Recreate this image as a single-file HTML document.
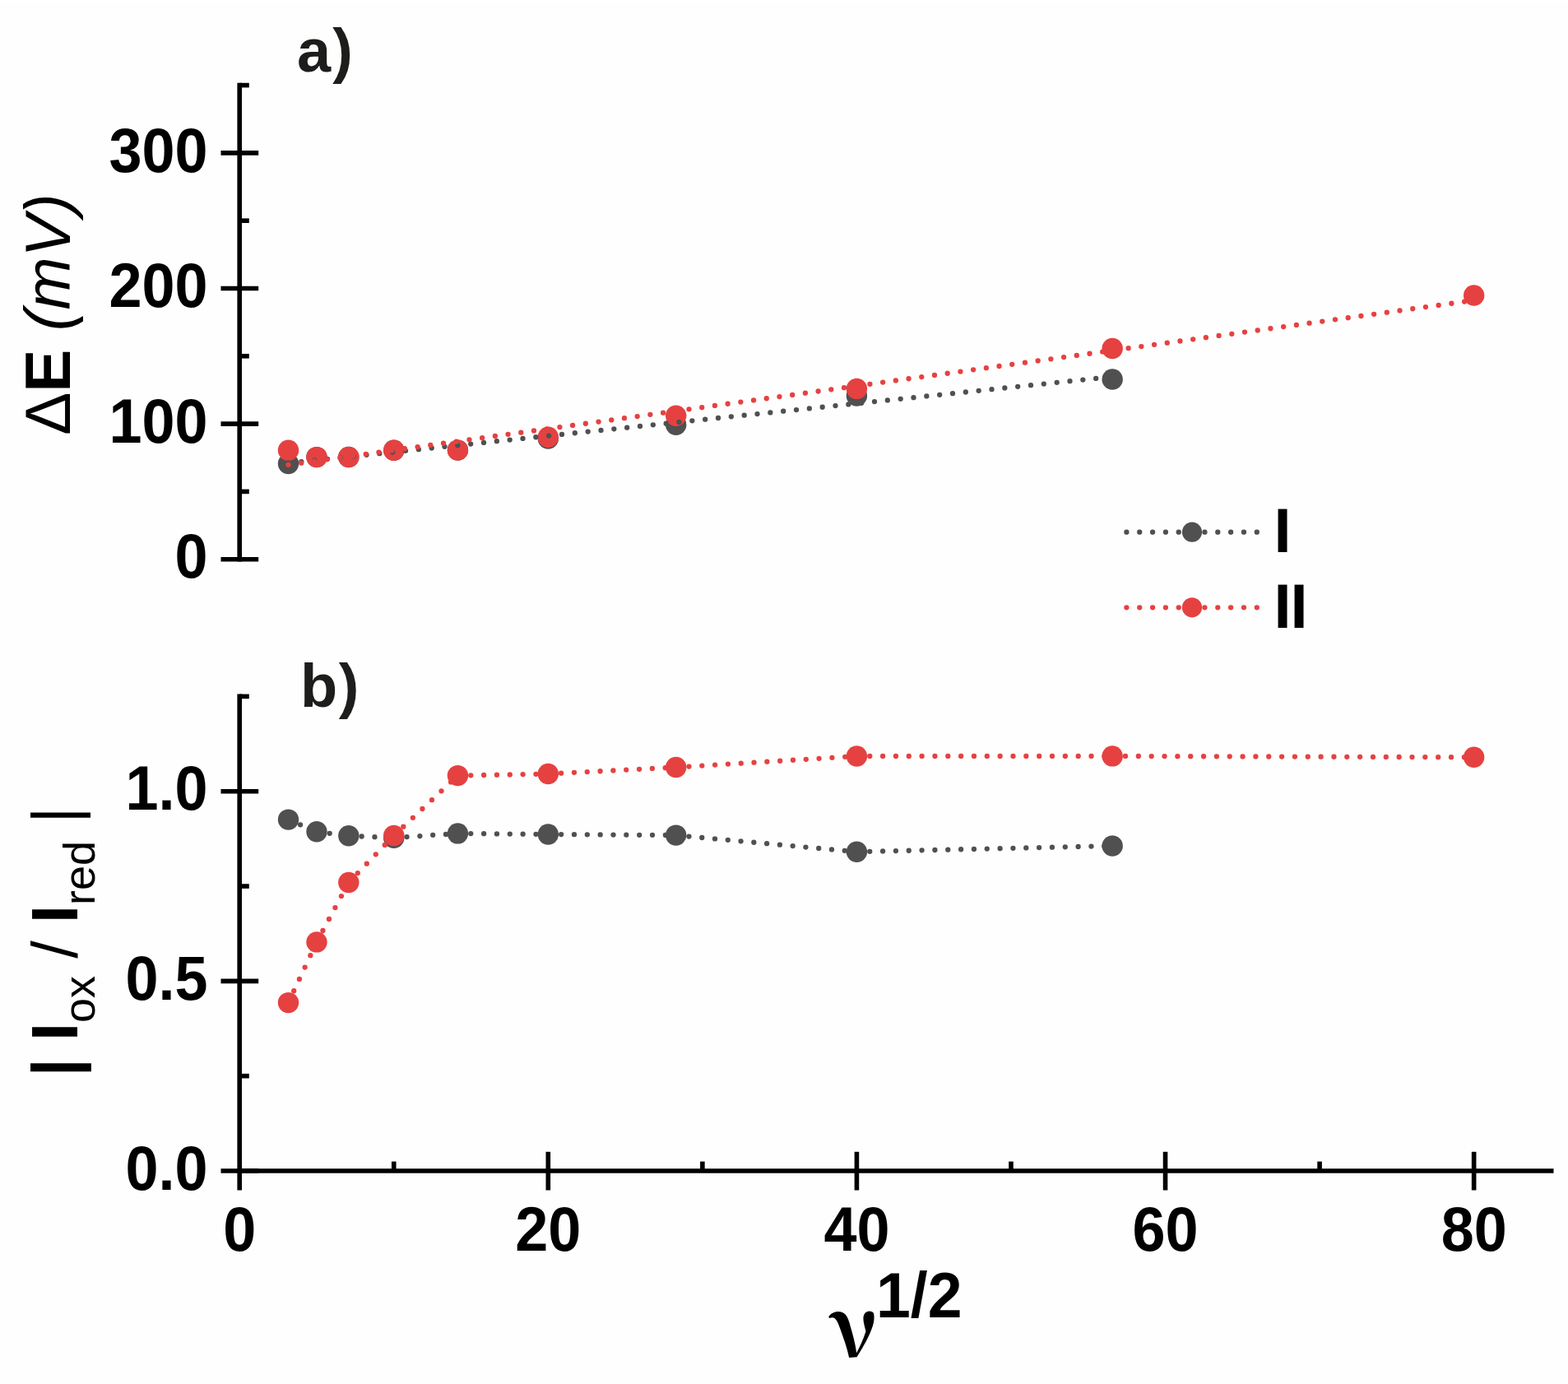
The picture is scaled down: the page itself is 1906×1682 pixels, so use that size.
<!DOCTYPE html><html><head><meta charset="utf-8"><style>html,body{margin:0;padding:0;background:#fff;}svg{display:block;}text{font-family:"Liberation Sans",Arial,sans-serif;}</style></head><body>
<svg width="1906" height="1682" viewBox="0 0 1906 1682">
<rect x="0" y="0" width="1906" height="1682" fill="#fefefe"/><rect x="0" y="0" width="1906" height="3" fill="#fff"/>
<g stroke="#000" stroke-width="5.6" fill="none"><line x1="291.20" y1="100.80" x2="291.20" y2="682.50" stroke-linecap="butt"/><line x1="268.50" y1="679.70" x2="314.20" y2="679.70" stroke-linecap="butt"/><line x1="268.50" y1="515.10" x2="314.20" y2="515.10" stroke-linecap="butt"/><line x1="268.50" y1="350.50" x2="314.20" y2="350.50" stroke-linecap="butt"/><line x1="268.50" y1="185.90" x2="314.20" y2="185.90" stroke-linecap="butt"/><line x1="291.20" y1="597.40" x2="302.80" y2="597.40" stroke-linecap="butt"/><line x1="291.20" y1="432.80" x2="302.80" y2="432.80" stroke-linecap="butt"/><line x1="291.20" y1="268.20" x2="302.80" y2="268.20" stroke-linecap="butt"/><line x1="291.20" y1="103.60" x2="302.80" y2="103.60" stroke-linecap="butt"/><line x1="291.20" y1="843.58" x2="291.20" y2="1446.50" stroke-linecap="butt"/><line x1="268.50" y1="1423.00" x2="314.20" y2="1423.00" stroke-linecap="butt"/><line x1="268.50" y1="1192.35" x2="314.20" y2="1192.35" stroke-linecap="butt"/><line x1="268.50" y1="961.70" x2="314.20" y2="961.70" stroke-linecap="butt"/><line x1="291.20" y1="1307.67" x2="302.80" y2="1307.67" stroke-linecap="butt"/><line x1="291.20" y1="1077.03" x2="302.80" y2="1077.03" stroke-linecap="butt"/><line x1="291.20" y1="846.38" x2="302.80" y2="846.38" stroke-linecap="butt"/><line x1="291.20" y1="1423.00" x2="1888.50" y2="1423.00" stroke-linecap="butt"/><line x1="666.31" y1="1399.80" x2="666.31" y2="1446.50" stroke-linecap="butt"/><line x1="1041.42" y1="1399.80" x2="1041.42" y2="1446.50" stroke-linecap="butt"/><line x1="1416.54" y1="1399.80" x2="1416.54" y2="1446.50" stroke-linecap="butt"/><line x1="1791.65" y1="1399.80" x2="1791.65" y2="1446.50" stroke-linecap="butt"/><line x1="478.76" y1="1411.60" x2="478.76" y2="1423.00" stroke-linecap="butt"/><line x1="853.87" y1="1411.60" x2="853.87" y2="1423.00" stroke-linecap="butt"/><line x1="1228.98" y1="1411.60" x2="1228.98" y2="1423.00" stroke-linecap="butt"/><line x1="1604.09" y1="1411.60" x2="1604.09" y2="1423.00" stroke-linecap="butt"/></g>
<circle cx="350.51" cy="563.50" r="12.7" fill="#505050"/><circle cx="384.98" cy="555.60" r="12.7" fill="#505050"/><circle cx="423.82" cy="555.50" r="12.7" fill="#505050"/><circle cx="478.76" cy="547.30" r="12.7" fill="#505050"/><circle cx="556.44" cy="547.10" r="12.7" fill="#505050"/><circle cx="666.31" cy="533.00" r="12.7" fill="#505050"/><circle cx="821.69" cy="516.20" r="12.7" fill="#505050"/><circle cx="1041.42" cy="481.00" r="12.7" fill="#505050"/><circle cx="1352.18" cy="461.00" r="12.7" fill="#505050"/>
<circle cx="350.51" cy="547.20" r="12.7" fill="#e64141"/><circle cx="384.98" cy="555.60" r="12.7" fill="#e64141"/><circle cx="423.82" cy="555.50" r="12.7" fill="#e64141"/><circle cx="478.76" cy="547.30" r="12.7" fill="#e64141"/><circle cx="556.44" cy="547.10" r="12.7" fill="#e64141"/><circle cx="666.31" cy="531.30" r="12.7" fill="#e64141"/><circle cx="821.69" cy="505.20" r="12.7" fill="#e64141"/><circle cx="1041.42" cy="472.40" r="12.7" fill="#e64141"/><circle cx="1352.18" cy="423.50" r="12.7" fill="#e64141"/><circle cx="1791.65" cy="359.00" r="12.7" fill="#e64141"/>
<path d="M350.51 562.77L1352.18 457.80" fill="none" stroke="#505050" stroke-width="6.3" stroke-linecap="round" stroke-dasharray="0 15.92"/>
<path d="M350.51 564.87L1791.65 364.95" fill="none" stroke="#e64141" stroke-width="6.3" stroke-linecap="round" stroke-dasharray="0 15.86"/>
<path d="M350.51 996.10L384.98 1010.80M384.98 1010.80L423.82 1015.80M423.82 1015.80L478.76 1018.20M478.76 1018.20L556.44 1012.90M556.44 1012.90L666.31 1014.00M666.31 1014.00L821.69 1015.10M821.69 1015.10L1041.42 1035.20M1041.42 1035.20L1352.18 1028.00" fill="none" stroke="#505050" stroke-width="6.3" stroke-linecap="round" stroke-dasharray="0 15.84"/>
<circle cx="350.51" cy="996.10" r="12.7" fill="#505050"/><circle cx="384.98" cy="1010.80" r="12.7" fill="#505050"/><circle cx="423.82" cy="1015.80" r="12.7" fill="#505050"/><circle cx="478.76" cy="1018.20" r="12.7" fill="#505050"/><circle cx="556.44" cy="1012.90" r="12.7" fill="#505050"/><circle cx="666.31" cy="1014.00" r="12.7" fill="#505050"/><circle cx="821.69" cy="1015.10" r="12.7" fill="#505050"/><circle cx="1041.42" cy="1035.20" r="12.7" fill="#505050"/><circle cx="1352.18" cy="1028.00" r="12.7" fill="#505050"/>
<path d="M350.51 1218.60L384.98 1144.90M384.98 1144.90L423.82 1072.50M423.82 1072.50L478.76 1015.50M478.76 1015.50L556.44 942.60M556.44 942.60L666.31 940.50M666.31 940.50L821.69 932.50M821.69 932.50L1041.42 919.00M1041.42 919.00L1352.18 918.90M1352.18 918.90L1791.65 920.30" fill="none" stroke="#e64141" stroke-width="6.3" stroke-linecap="round" stroke-dasharray="0 15.84"/>
<circle cx="350.51" cy="1218.60" r="12.7" fill="#e64141"/><circle cx="384.98" cy="1144.90" r="12.7" fill="#e64141"/><circle cx="423.82" cy="1072.50" r="12.7" fill="#e64141"/><circle cx="478.76" cy="1015.50" r="12.7" fill="#e64141"/><circle cx="556.44" cy="942.60" r="12.7" fill="#e64141"/><circle cx="666.31" cy="940.50" r="12.7" fill="#e64141"/><circle cx="821.69" cy="932.50" r="12.7" fill="#e64141"/><circle cx="1041.42" cy="919.00" r="12.7" fill="#e64141"/><circle cx="1352.18" cy="918.90" r="12.7" fill="#e64141"/><circle cx="1791.65" cy="920.30" r="12.7" fill="#e64141"/>
<path d="M1369.40 646.70L1527.80 646.70" fill="none" stroke="#505050" stroke-width="6.3" stroke-linecap="round" stroke-dasharray="0 15.84"/>
<circle cx="1449.00" cy="646.70" r="12.1" fill="#505050"/>
<path d="M1369.40 738.30L1527.80 738.30" fill="none" stroke="#e64141" stroke-width="6.3" stroke-linecap="round" stroke-dasharray="0 15.84"/>
<circle cx="1449.00" cy="738.30" r="12.1" fill="#e64141"/>
<text transform="translate(252.50,702.30) scale(0.947,1)" font-size="76" font-weight="bold" text-anchor="end" >0</text>
<text transform="translate(252.50,537.70) scale(0.947,1)" font-size="76" font-weight="bold" text-anchor="end" >100</text>
<text transform="translate(252.50,373.10) scale(0.947,1)" font-size="76" font-weight="bold" text-anchor="end" >200</text>
<text transform="translate(252.50,208.50) scale(0.947,1)" font-size="76" font-weight="bold" text-anchor="end" >300</text>
<text transform="translate(252.50,1445.60) scale(0.947,1)" font-size="76" font-weight="bold" text-anchor="end" >0.0</text>
<text transform="translate(252.50,1214.95) scale(0.947,1)" font-size="76" font-weight="bold" text-anchor="end" >0.5</text>
<text transform="translate(252.50,984.30) scale(0.947,1)" font-size="76" font-weight="bold" text-anchor="end" >1.0</text>
<text transform="translate(291.20,1520.00) scale(0.947,1)" font-size="76" font-weight="bold" text-anchor="middle" >0</text>
<text transform="translate(666.31,1520.00) scale(0.947,1)" font-size="76" font-weight="bold" text-anchor="middle" >20</text>
<text transform="translate(1041.42,1520.00) scale(0.947,1)" font-size="76" font-weight="bold" text-anchor="middle" >40</text>
<text transform="translate(1416.54,1520.00) scale(0.947,1)" font-size="76" font-weight="bold" text-anchor="middle" >60</text>
<text transform="translate(1791.65,1520.00) scale(0.947,1)" font-size="76" font-weight="bold" text-anchor="middle" >80</text>
<text x="1548.4" y="671.4" font-size="76" font-weight="bold">I</text>
<text x="1548.4" y="762.8" font-size="76" font-weight="bold" letter-spacing="-1.1">II</text>
<text x="361" y="86.6" font-size="74" font-weight="bold" fill="#1d1d1b">a<tspan dx="2">)</tspan></text>
<text x="365" y="858.8" font-size="74" font-weight="bold" fill="#1d1d1b">b<tspan dx="1.5">)</tspan></text>
<text transform="translate(84.6,528.8) rotate(-90)" font-size="78"><tspan>Δ</tspan><tspan font-weight="bold">E</tspan></text>
<text transform="translate(84.6,235.4) rotate(-90)" font-size="77" font-style="italic" text-anchor="end">(mV)</text>
<text transform="translate(93.8,1308) rotate(-90)" font-size="77"><tspan font-weight="bold">| </tspan><tspan font-weight="bold" font-size="79">I</tspan><tspan font-size="54" dy="21">ox</tspan><tspan dy="-21"> / </tspan><tspan font-weight="bold" font-size="79">I</tspan><tspan font-size="54" dy="21">red</tspan><tspan dy="-21"> |</tspan></text>
<text transform="translate(1007.1,1649.4) scale(1.03,1)" font-size="101" font-weight="bold" style="font-family:'Noto Serif CJK SC','Liberation Serif',serif">ν</text>
<text transform="translate(1065,1600.8) scale(0.977,1)" font-size="77" font-weight="bold">1/2</text>
</svg></body></html>
